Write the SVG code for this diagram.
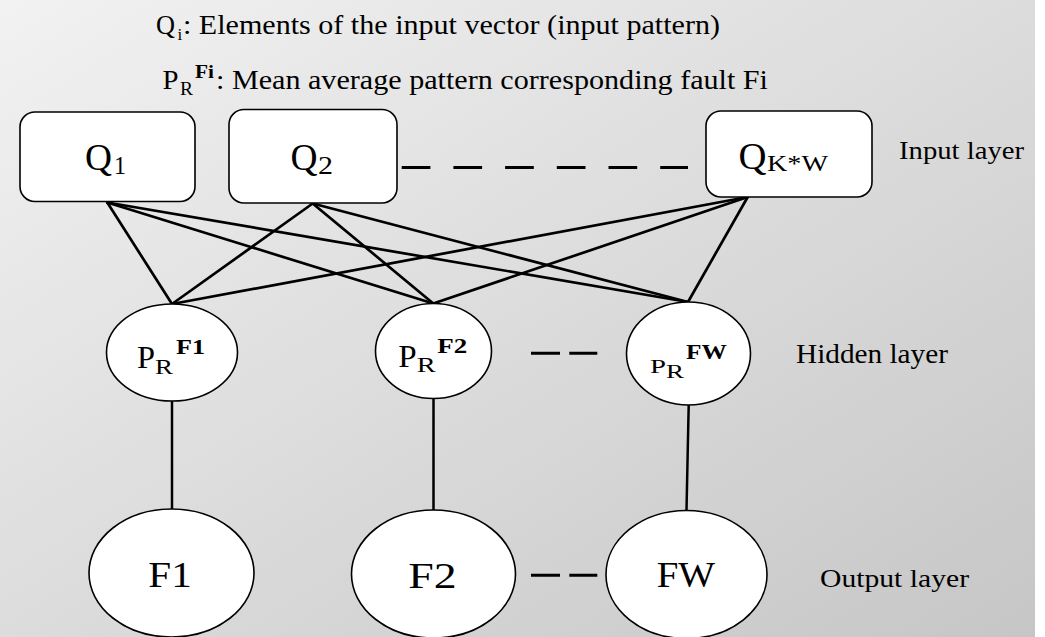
<svg xmlns="http://www.w3.org/2000/svg" width="1045" height="637" viewBox="0 0 1045 637">
  <defs>
    <linearGradient id="bg" x1="0" y1="0" x2="1" y2="1">
      <stop offset="0" stop-color="#f2f2f2"/>
      <stop offset="1" stop-color="#c6c6c6"/>
    </linearGradient>
  </defs>
  <style>
    text { font-family: "Liberation Serif", "Times New Roman", serif; fill: #000; }
    .box { fill: #fff; stroke: #000; stroke-width: 1.6; }
    .node { fill: #fff; stroke: #000; stroke-width: 1.6; }
    .edge { stroke: #000; stroke-width: 2.7; fill: none; stroke-linecap: round; }
    .vline { stroke: #000; stroke-width: 2.5; fill: none; }
    .dash { stroke: #000; stroke-width: 3; fill: none; }
    .b { font-weight: bold; }
  </style>
  <rect x="0" y="0" width="1045" height="637" fill="#fff"/>
  <rect x="0" y="0" width="1035" height="637" fill="url(#bg)"/>

  <g id="legend">
    <text font-size="27" y="34"><tspan x="156" textLength="19" lengthAdjust="spacingAndGlyphs">Q</tspan><tspan x="177.5" y="40" font-size="17">i</tspan><tspan x="183" y="34" textLength="537" lengthAdjust="spacingAndGlyphs">: Elements of the input vector (input pattern)</tspan></text>
    <text font-size="27" y="89"><tspan x="162.5" textLength="16" lengthAdjust="spacingAndGlyphs">P</tspan><tspan x="180" y="95" font-size="19" textLength="13" lengthAdjust="spacingAndGlyphs">R</tspan><tspan x="195" y="77.5" font-size="19" class="b" textLength="19" lengthAdjust="spacingAndGlyphs">Fi</tspan><tspan x="216" y="89" textLength="552" lengthAdjust="spacingAndGlyphs">: Mean average pattern corresponding fault Fi</tspan></text>
  </g>

  <g id="connectors">
    <line class="edge" x1="107.3" y1="202.5" x2="172" y2="304"/>
    <line class="edge" x1="107.3" y1="202.5" x2="433.3" y2="303.5"/>
    <line class="edge" x1="107.3" y1="202.5" x2="688" y2="302"/>
    <line class="edge" x1="312.7" y1="203.5" x2="172" y2="304"/>
    <line class="edge" x1="312.7" y1="203.5" x2="433.3" y2="303.5"/>
    <line class="edge" x1="312.7" y1="203.5" x2="688" y2="302"/>
    <line class="edge" x1="747.7" y1="197" x2="172" y2="304"/>
    <line class="edge" x1="747.7" y1="197" x2="433.3" y2="303.5"/>
    <line class="edge" x1="747.7" y1="197" x2="688" y2="302"/>
    <line class="vline" x1="172" y1="401" x2="172" y2="509"/>
    <line class="vline" x1="433.5" y1="398.5" x2="433.5" y2="510"/>
    <line class="vline" x1="688.7" y1="405" x2="686.5" y2="510.5"/>
    <line class="dash" x1="401.7" y1="167.5" x2="688" y2="167.5" stroke-dasharray="28.7 23"/>
    <line class="dash" x1="531" y1="353.3" x2="597.3" y2="353.3" stroke-dasharray="29 9.3"/>
    <line class="dash" x1="531" y1="575.3" x2="597.3" y2="575.3" stroke-dasharray="29 9.3"/>
  </g>

  <g id="q1">
    <rect class="box" x="20" y="112" width="175" height="89.5" rx="15"/>
    <text font-size="38" y="170"><tspan x="85" textLength="27" lengthAdjust="spacingAndGlyphs">Q</tspan><tspan x="114" y="174" font-size="26" textLength="12" lengthAdjust="spacingAndGlyphs">1</tspan></text>
  </g>
  <g id="q2">
    <rect class="box" x="229" y="109.5" width="168" height="93.5" rx="15"/>
    <text font-size="38" y="170"><tspan x="290.5" textLength="27" lengthAdjust="spacingAndGlyphs">Q</tspan><tspan x="318" y="174" font-size="26" textLength="15" lengthAdjust="spacingAndGlyphs">2</tspan></text>
  </g>
  <g id="qkw">
    <rect class="box" x="706" y="111" width="166" height="86" rx="15"/>
    <text font-size="38" y="168.5"><tspan x="738.5" textLength="28" lengthAdjust="spacingAndGlyphs">Q</tspan><tspan x="767" y="171" font-size="23" textLength="61" lengthAdjust="spacingAndGlyphs">K*W</tspan></text>
  </g>
  <text id="input-label" x="899" y="159" font-size="25" textLength="125" lengthAdjust="spacingAndGlyphs">Input layer</text>

  <g id="h1">
    <ellipse class="node" cx="172" cy="352.5" rx="65.5" ry="48.5"/>
    <text font-size="32" y="368"><tspan x="137" textLength="18" lengthAdjust="spacingAndGlyphs">P</tspan><tspan x="155" y="374" font-size="21" textLength="18" lengthAdjust="spacingAndGlyphs">R</tspan><tspan x="176" y="354" font-size="21" class="b" textLength="29" lengthAdjust="spacingAndGlyphs">F1</tspan></text>
  </g>
  <g id="h2">
    <ellipse class="node" cx="433.5" cy="351" rx="58" ry="47.5"/>
    <text font-size="32" y="366.7"><tspan x="398.3" textLength="18.4" lengthAdjust="spacingAndGlyphs">P</tspan><tspan x="416.7" y="371.7" font-size="21" textLength="19" lengthAdjust="spacingAndGlyphs">R</tspan><tspan x="437.3" y="352.7" font-size="21" class="b" textLength="30" lengthAdjust="spacingAndGlyphs">F2</tspan></text>
  </g>
  <g id="hw">
    <ellipse class="node" cx="688.5" cy="353.5" rx="62" ry="51.5"/>
    <text font-size="18" y="373"><tspan x="650" textLength="16" lengthAdjust="spacingAndGlyphs">P</tspan><tspan x="666" y="377.5" font-size="18" textLength="18" lengthAdjust="spacingAndGlyphs">R</tspan><tspan x="686" y="359" font-size="22" class="b" textLength="40.7" lengthAdjust="spacingAndGlyphs">FW</tspan></text>
  </g>
  <text id="hidden-label" x="796" y="363.3" font-size="27" textLength="152" lengthAdjust="spacingAndGlyphs">Hidden layer</text>

  <g id="o1">
    <ellipse class="node" cx="171.5" cy="573" rx="82.5" ry="64"/>
    <text x="148.3" y="587.3" font-size="36" textLength="43.4" lengthAdjust="spacingAndGlyphs">F1</text>
  </g>
  <g id="o2">
    <ellipse class="node" cx="433.5" cy="574" rx="82" ry="64"/>
    <text x="408.3" y="588.3" font-size="36" textLength="48.4" lengthAdjust="spacingAndGlyphs">F2</text>
  </g>
  <g id="ow">
    <ellipse class="node" cx="686.5" cy="574.5" rx="80.5" ry="64"/>
    <text x="656.7" y="586.7" font-size="36" textLength="58.3" lengthAdjust="spacingAndGlyphs">FW</text>
  </g>
  <text id="output-label" x="820" y="587.3" font-size="26" textLength="149" lengthAdjust="spacingAndGlyphs">Output layer</text>
</svg>
